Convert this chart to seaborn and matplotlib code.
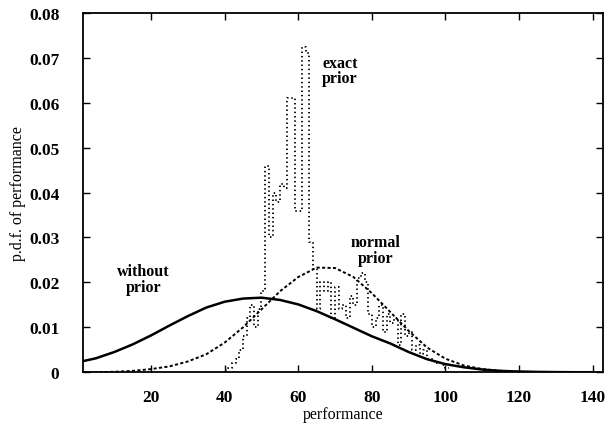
import numpy as np
import pandas as pd
import matplotlib
matplotlib.use("Agg")
import matplotlib.pyplot as plt
import seaborn as sns

# ---- data ----
x_grid = [0, 5, 10, 15, 20, 25, 30, 35, 40, 45, 50, 55, 60, 65, 70, 75, 80,
          85, 90, 95, 100, 105, 110, 115, 120, 125, 130, 135, 140]
without_prior = [0.0022, 0.0031, 0.0045, 0.0062, 0.0082, 0.0104, 0.0125, 0.0144,
                 0.0157, 0.0164, 0.0166, 0.0161, 0.0151, 0.0136, 0.0118, 0.0099,
                 0.0080, 0.0064, 0.0045, 0.0029, 0.0018, 0.0011, 0.0006, 0.0003,
                 0.00015, 0.00007, 0.00003, 0.0, 0.0]
normal_prior = [0.0, 0.0, 0.0001, 0.0003, 0.0007, 0.0013, 0.0024, 0.0040,
                0.0066, 0.0100, 0.0140, 0.0180, 0.0212, 0.0233, 0.0232, 0.0212,
                0.0176, 0.0134, 0.0092, 0.0055, 0.0030, 0.0015, 0.0007, 0.0003,
                0.0001, 0.00005, 0.0, 0.0, 0.0]

exact_left = list(range(40, 101))
exact_prior = [0.0005, 0.001, 0.002, 0.003, 0.005, 0.008, 0.012, 0.015, 0.010,
               0.014, 0.018, 0.046, 0.030, 0.040, 0.038, 0.042, 0.041, 0.061,
               0.061, 0.036, 0.036, 0.0725, 0.071, 0.029, 0.023, 0.014, 0.020,
               0.018, 0.020, 0.012, 0.019, 0.014, 0.015, 0.012, 0.017, 0.015,
               0.021, 0.022, 0.020, 0.013, 0.010, 0.012, 0.015, 0.009, 0.013,
               0.011, 0.012, 0.006, 0.013, 0.008, 0.009, 0.005, 0.006, 0.004,
               0.005, 0.003, 0.003, 0.002, 0.002, 0.0015, 0.001]

x_ticks = [20, 40, 60, 80, 100, 120, 140]
y_ticks = [0, 0.01, 0.02, 0.03, 0.04, 0.05, 0.06, 0.07, 0.08]
y_ticklabels = ["0", "0.01", "0.02", "0.03", "0.04", "0.05", "0.06", "0.07", "0.08"]

# ---- plotting ----
sns.set_theme(style="ticks")
plt.rcParams["font.family"] = ["Liberation Serif", "DejaVu Serif"]
plt.rcParams["text.color"] = "black"
plt.rcParams["axes.labelcolor"] = "black"

fig, ax = plt.subplots(figsize=(6.06, 4.35), dpi=100)
fig.subplots_adjust(left=0.137, right=0.995, bottom=0.142, top=0.968)

curves = pd.DataFrame({"x": x_grid, "without": without_prior, "normal": normal_prior})
sns.lineplot(data=curves, x="x", y="without", ax=ax, color="black", lw=1.8)
sns.lineplot(data=curves, x="x", y="normal", ax=ax, color="black", lw=1.4,
             linestyle=(0, (1.6, 1.2)))

hist_df = pd.DataFrame({"x": [v + 0.5 for v in exact_left], "w": exact_prior})
edges = exact_left + [exact_left[-1] + 1]
sns.histplot(data=hist_df, x="x", weights="w", bins=edges, element="step",
             fill=False, color="black", lw=1.3, linestyle=(0, (0.8, 1.6)), ax=ax)

ax.set_xlim(1.5, 142.8)
ax.set_ylim(0, 0.08)
ax.set_xticks(x_ticks)
ax.set_xticklabels([str(t) for t in x_ticks])
ax.set_yticks(y_ticks)
ax.set_yticklabels(y_ticklabels)
ax.tick_params(direction="in", length=5, width=1, top=True, right=True,
               labelsize=12.5, colors="black")
ax.tick_params(axis="y", pad=17)
ax.tick_params(axis="x", pad=12)
for lab in ax.get_xticklabels() + ax.get_yticklabels():
    lab.set_fontweight("bold")
for s in ax.spines.values():
    s.set_linewidth(1.3)
    s.set_color("black")

ax.set_xlabel("performance", fontsize=11.5, labelpad=1, color="black")
ax.set_ylabel("p.d.f. of performance", fontsize=11.5, labelpad=2, color="black")

ax.text(18, 0.0208, "without\nprior", ha="center", va="center", fontsize=11.5,
        fontweight="bold", linespacing=0.95, color="black")
ax.text(71.3, 0.0672, "exact\nprior", ha="center", va="center", fontsize=11.5,
        fontweight="bold", linespacing=0.95, color="black")
ax.text(81, 0.0272, "normal\nprior", ha="center", va="center", fontsize=11.5,
        fontweight="bold", linespacing=0.95, color="black")

fig.savefig("out.png", dpi=100)
